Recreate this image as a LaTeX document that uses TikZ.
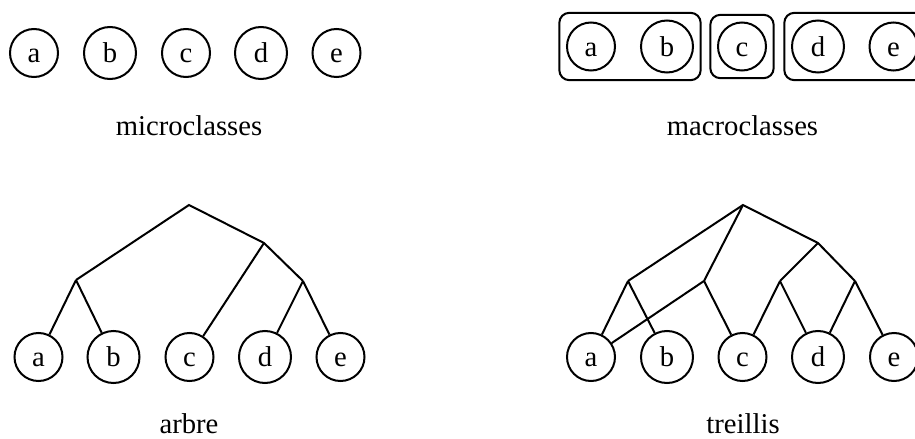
\documentclass[tikz,border=0pt]{standalone}
\usepackage{fontspec}
\setmainfont{Liberation Serif}
\usetikzlibrary{fit}
\begin{document}
\begin{tikzpicture}[x=0.75pt,y=-0.75pt,line width=1.5pt,
  every node/.style={font=\fontsize{21.5pt}{26pt}\selectfont},
  leaf/.style={circle,draw,inner sep=0pt,minimum size=36pt,text height=14.4pt,text depth=0pt},
  leafbig/.style={leaf,minimum size=39pt,text height=14.7pt},
  grp/.style={draw,rounded corners=7.5pt,inner sep=5pt},
  lbl/.style={anchor=base,text depth=0pt}]
\useasboundingbox (0,0) rectangle (915,439);
% microclasses
\node[leaf]    (ma) at (34,53) {a};
\node[leafbig] (mb) at (110,53) {b};
\node[leaf]    (mc) at (186,53) {c};
\node[leafbig] (md) at (261,53) {d};
\node[leaf]    (me) at (336.5,53) {e};
\node[lbl] (lmicro) at (189,135) {microclasses};
% macroclasses
\node[leaf]    (Ma) at (591,46.5) {a};
\node[leafbig] (Mb) at (667,46.5) {b};
\node[leaf]    (Mc) at (742,46.5) {c};
\node[leafbig] (Md) at (818,46.5) {d};
\node[leaf]    (Me) at (893.5,46.5) {e};
\node[grp,fit=(Ma)(Mb)] (gab) {};
\node[grp,fit=(Mc)] (gc) {};
\node[grp,fit=(Md)(Me)] (gde) {};
\node[lbl] (lmacro) at (742.5,135) {macroclasses};
% arbre
\node[leaf]    (ta) at (38.5,357) {a};
\node[leafbig] (tb) at (113.5,357) {b};
\node[leaf]    (tc) at (189.5,357) {c};
\node[leafbig] (td) at (265,357) {d};
\node[leaf]    (te) at (340.5,357) {e};
\coordinate (troot) at (189,205);
\coordinate (tr) at (264,243);
\coordinate (tl) at (76,280);
\coordinate (trr) at (303,281);
\draw (tl) -- (troot) -- (tr) -- (trr);
\draw (tl) -- (ta);
\draw (tl) -- (tb);
\draw (tr) -- (tc);
\draw (trr) -- (td);
\draw (trr) -- (te);
\node[lbl] (larbre) at (189,433) {arbre};
% treillis
\node[leaf]    (la) at (591,357) {a};
\node[leafbig] (lb) at (667,357) {b};
\node[leaf]    (lc) at (742.5,357) {c};
\node[leafbig] (ld) at (818,357) {d};
\node[leaf]    (le) at (894,357) {e};
\coordinate (lroot) at (743,205);
\coordinate (lR) at (818,243);
\coordinate (l1) at (628,281);
\coordinate (l2) at (704,281);
\coordinate (l3) at (780,281);
\coordinate (l4) at (855,281);
\draw (l1) -- (lroot) -- (lR) -- (l4);
\draw (lroot) -- (l2);
\draw (lR) -- (l3);
\draw (l1) -- (la);
\draw (l1) -- (lb);
\draw (l2) -- (la);
\draw (l2) -- (lc);
\draw (l3) -- (lc);
\draw (l3) -- (ld);
\draw (l4) -- (ld);
\draw (l4) -- (le);
\node[lbl] (ltreillis) at (743,433) {treillis};
\end{tikzpicture}
\end{document}
